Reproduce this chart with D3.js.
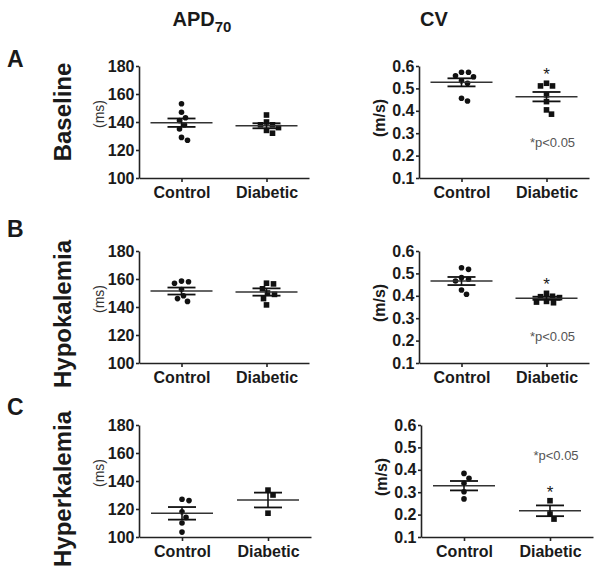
<!DOCTYPE html>
<html><head><meta charset="utf-8">
<script src="https://cdn.jsdelivr.net/npm/d3@7"></script>
<style>body{margin:0;background:#fff}svg{display:block;font-family:"Liberation Sans",Arial,sans-serif}</style>
</head><body><svg id="c" width="602" height="568"></svg>
<script>
// ---------------- data ----------------
const rowNames = ["Baseline", "Hypokalemia", "Hyperkalemia"];
const rowLetters = ["A", "B", "C"];
const groups = ["Control", "Diabetic"];
const apdTicks = [100, 120, 140, 160, 180];
const cvTicks = [0.1, 0.2, 0.3, 0.4, 0.5, 0.6];

// APD70 (ms), one array per condition row
const apdControl = [
  [153, 147, 143, 141, 138, 135, 129, 127],
  [157, 158.5, 158, 152.5, 148, 146, 144],
  [127, 126, 118, 114, 110, 103.5]
];
const apdDiabetic = [
  [145, 140, 138, 138, 136, 134, 132],
  [156.5, 157, 153, 150, 149, 146, 141.5],
  [133.5, 130, 117]
];
const apdMeanControl = [139.5, 151.4, 116.9];
const apdMeanDiabetic = [137.3, 150.7, 126.4];
const apdSemControl = [3.0, 2.5, 4.5];
const apdSemDiabetic = [1.8, 2.6, 5.3];

// CV (m/s)
const cvControl = [
  [0.572, 0.552, 0.556, 0.572, 0.534, 0.523, 0.456, 0.444],
  [0.518, 0.525, 0.481, 0.474, 0.466, 0.426, 0.407],
  [0.384, 0.362, 0.340, 0.302, 0.270]
];
const cvDiabetic = [
  [0.523, 0.511, 0.511, 0.471, 0.441, 0.404, 0.385],
  [0.411, 0.396, 0.398, 0.392, 0.375, 0.372, 0.369],
  [0.262, 0.203, 0.180]
];
const cvMeanControl = [0.527, 0.466, 0.329];
const cvMeanDiabetic = [0.463, 0.389, 0.217];
const cvSemControl = [0.018, 0.018, 0.021];
const cvSemDiabetic = [0.021, 0.007, 0.024];
const pNote = "*p<0.05";
const pNoteValue = [0.238, 0.2, 0.444]; // vertical placement of the note, in m/s

// ---------------- layout ----------------
const svg = d3.select("#c");
svg.append("rect").attr("width", 602).attr("height", 568).attr("fill", "#fff");

const rowTop = [66, 251, 425];
const plotH = 112;
const apdAxisX = [139, 139, 139], apdW = [170, 170, 172];
const cvAxisX = [419, 419, 421], cvW = [170, 170, 172];
const ink = "#1a1a1a";

function swarm(vals, y, minDist, step) {
  const placed = [];
  const order = vals.map((v, i) => ({v, i, py: y(v)})).sort((a, b) => a.py - b.py);
  order.forEach(p => {
    for (let k = 0; k < 80; k++) {
      const off = (k % 2 ? 1 : -1) * Math.ceil(k / 2) * step;
      const ok = placed.every(q => (q.dx - off) ** 2 + (q.py - p.py) ** 2 >= minDist * minDist);
      if (ok) { p.dx = off; break; }
    }
    placed.push(p);
  });
  return placed;
}

function panel(r, kind) {
  const isCV = kind === "cv";
  const top = rowTop[r];
  const ax = isCV ? cvAxisX[r] : apdAxisX[r];
  const w = isCV ? cvW[r] : apdW[r];
  const y = d3.scaleLinear().domain(isCV ? [0.1, 0.6] : [100, 180]).range([top + plotH, top]);
  const x = d3.scalePoint().domain(groups).range([ax, ax + w]).padding(0.5);
  const g = svg.append("g");

  const ya = g.append("g").attr("transform", `translate(${ax},0)`)
    .call(d3.axisLeft(y).tickValues(isCV ? cvTicks : apdTicks).tickSize(3).tickSizeOuter(0).tickPadding(1.5)
      .tickFormat(isCV ? d3.format(".1f") : d3.format("d")));
  const xa = g.append("g").attr("transform", `translate(0,${top + plotH})`)
    .call(d3.axisBottom(x).tickSize(4).tickSizeOuter(0).tickPadding(4.5));
  [ya, xa].forEach(a => {
    a.selectAll("path,line").attr("stroke", "#222").attr("stroke-width", 1.6);
    a.selectAll("text").attr("fill", ink).attr("font-size", 16).attr("font-weight", "bold").attr("font-family", null);
  });

  // axis title
  g.append("text")
    .attr("transform", `translate(${ax - 40},${top + plotH / 2 - (isCV ? 4 : 8)}) rotate(-90)`)
    .attr("dy", "0.35em").attr("text-anchor", "middle")
    .attr("font-size", isCV ? 16 : 14).attr("font-weight", isCV ? "bold" : "normal")
    .attr("fill", isCV ? ink : "#333")
    .text(isCV ? "(m/s)" : "(ms)");

  const sets = isCV
    ? [[cvControl[r], cvMeanControl[r], cvSemControl[r]], [cvDiabetic[r], cvMeanDiabetic[r], cvSemDiabetic[r]]]
    : [[apdControl[r], apdMeanControl[r], apdSemControl[r]], [apdDiabetic[r], apdMeanDiabetic[r], apdSemDiabetic[r]]];

  sets.forEach(([vals, mean, sem], gi) => {
    const cx = x(groups[gi]);
    const pts = swarm(vals, y, 6.4, 1);
    if (gi === 0) {
      g.selectAll(null).data(pts).enter().append("circle")
        .attr("cx", d => cx + d.dx).attr("cy", d => d.py).attr("r", 2.8).attr("fill", "#111");
    } else {
      g.selectAll(null).data(pts).enter().append("rect")
        .attr("x", d => cx + d.dx - 2.8).attr("y", d => d.py - 2.8)
        .attr("width", 5.6).attr("height", 5.6).attr("fill", "#111");
    }
    // mean line
    g.append("line").attr("x1", cx - 31).attr("x2", cx + 31)
      .attr("y1", y(mean)).attr("y2", y(mean)).attr("stroke", "#333").attr("stroke-width", 1.5);
    // SEM
    [mean + sem, mean - sem].forEach(v => {
      g.append("line").attr("x1", cx - 14).attr("x2", cx + 14)
        .attr("y1", y(v)).attr("y2", y(v)).attr("stroke", "#111").attr("stroke-width", 1.8);
    });
    g.append("line").attr("x1", cx).attr("x2", cx)
      .attr("y1", y(mean + sem)).attr("y2", y(mean - sem)).attr("stroke", "#111").attr("stroke-width", 1.6);

    if (isCV && gi === 1) {
      // significance star
      g.append("text").attr("x", cx).attr("y", y(d3.max(vals)) - 13 + 10)
        .attr("text-anchor", "middle").attr("font-size", 17).attr("fill", ink).text("*");
      g.append("text").attr("x", cx + 6).attr("y", y(pNoteValue[r]))
        .attr("text-anchor", "middle").attr("font-size", 13).attr("fill", "#555").text(pNote);
    }
  });
}

for (let r = 0; r < 3; r++) { panel(r, "apd"); panel(r, "cv"); }

// row letters
const letterY = [67, 237, 415];
rowLetters.forEach((L, i) => {
  svg.append("text").attr("x", 7).attr("y", letterY[i]).attr("font-size", 23)
    .attr("font-weight", "bold").attr("fill", ink).text(L);
});
// row titles
const rowCenter = [112, 314, 489];
rowNames.forEach((n, i) => {
  svg.append("text").attr("transform", `translate(63,${rowCenter[i]}) rotate(-90)`)
    .attr("dy", "0.35em").attr("text-anchor", "middle")
    .attr("font-size", 24).attr("font-weight", "bold").attr("fill", ink).text(n);
});
// column headers
const h1 = svg.append("text").attr("x", 202).attr("y", 26).attr("text-anchor", "middle")
  .attr("font-size", 20).attr("font-weight", "bold").attr("fill", ink);
h1.append("tspan").text("APD");
h1.append("tspan").attr("font-size", 15).attr("dy", 6).text("70");
svg.append("text").attr("x", 434).attr("y", 26).attr("text-anchor", "middle")
  .attr("font-size", 20).attr("font-weight", "bold").attr("fill", ink).text("CV");
</script></body></html>
